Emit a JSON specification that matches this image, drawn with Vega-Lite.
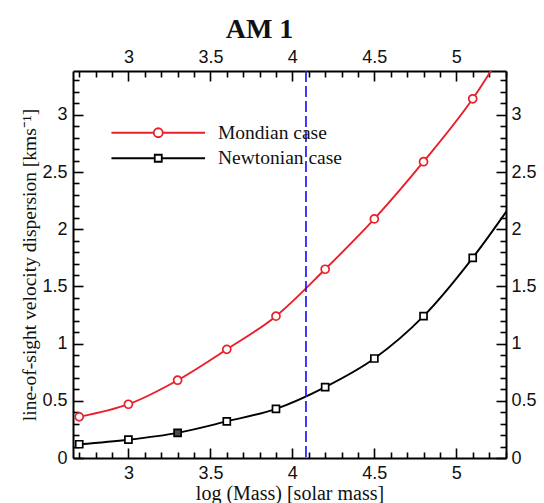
{
  "$schema": "https://vega.github.io/schema/vega-lite/v6.json",
  "width": 433,
  "height": 387,
  "autosize": {"type": "none"},
  "padding": {"left": 73, "top": 71, "right": 38, "bottom": 45},
  "background": "white",
  "title": {
    "text": "AM 1",
    "font": "Liberation Serif",
    "fontSize": 28,
    "fontWeight": "bold",
    "color": "#111111",
    "anchor": "middle",
    "dx": -30,
    "offset": 1
  },
  "datasets": {
    "curves": [
      {"logM": 2.7, "sigma": 0.36, "case": "Mondian case"},
      {"logM": 3.0, "sigma": 0.47, "case": "Mondian case"},
      {"logM": 3.3, "sigma": 0.68, "case": "Mondian case"},
      {"logM": 3.6, "sigma": 0.95, "case": "Mondian case"},
      {"logM": 3.9, "sigma": 1.24, "case": "Mondian case"},
      {"logM": 4.2, "sigma": 1.65, "case": "Mondian case"},
      {"logM": 4.5, "sigma": 2.09, "case": "Mondian case"},
      {"logM": 4.8, "sigma": 2.59, "case": "Mondian case"},
      {"logM": 5.1, "sigma": 3.14, "case": "Mondian case"},
      {"logM": 5.4, "sigma": 3.83, "case": "Mondian case"},
      {"logM": 2.7, "sigma": 0.12, "case": "Newtonian case"},
      {"logM": 3.0, "sigma": 0.16, "case": "Newtonian case"},
      {"logM": 3.3, "sigma": 0.22, "case": "Newtonian case"},
      {"logM": 3.6, "sigma": 0.32, "case": "Newtonian case"},
      {"logM": 3.9, "sigma": 0.43, "case": "Newtonian case"},
      {"logM": 4.2, "sigma": 0.62, "case": "Newtonian case"},
      {"logM": 4.5, "sigma": 0.87, "case": "Newtonian case"},
      {"logM": 4.8, "sigma": 1.24, "case": "Newtonian case"},
      {"logM": 5.1, "sigma": 1.75, "case": "Newtonian case"},
      {"logM": 5.4, "sigma": 2.35, "case": "Newtonian case"}
    ],
    "cutoff": [{"logM": 4.083}]
  },
  "config": {
    "view": {"stroke": null},
    "axis": {
      "grid": false,
      "domainColor": "black",
      "domainWidth": 2,
      "tickColor": "black",
      "tickWidth": 1.6,
      "labelFont": "Liberation Sans",
      "labelFontSize": 18,
      "labelColor": "#111111",
      "labelOverlap": false,
      "labelFlush": false,
      "titleFont": "Liberation Serif",
      "titleFontSize": 20,
      "titleFontWeight": "normal",
      "titleColor": "#111111"
    }
  },
  "layer": [
    {
      "data": {"name": "curves"},
      "mark": {"type": "line", "strokeWidth": 1.9, "clip": true, "interpolate": "monotone"},
      "encoding": {
        "x": {
          "field": "logM",
          "type": "quantitative",
          "scale": {"domain": [2.662, 5.303], "nice": false, "zero": false},
          "axis": {
            "orient": "bottom",
            "title": "log (Mass) [solar mass]",
            "values": [2.7, 2.8, 2.9, 3.0, 3.1, 3.2, 3.3, 3.4, 3.5, 3.6, 3.7, 3.8, 3.9, 4.0, 4.1, 4.2, 4.3, 4.4, 4.5, 4.6, 4.7, 4.8, 4.9, 5.0, 5.1, 5.2, 5.3],
            "format": "~g",
            "labelExpr": "abs(datum.value * 2 - round(datum.value * 2)) < 0.000001 ? datum.label : ''",
            "tickSize": {"condition": {"test": "abs(datum.value * 2 - round(datum.value * 2)) < 0.000001", "value": -10}, "value": -6},
            "labelPadding": 16,
            "titlePadding": -3
          }
        },
        "y": {
          "field": "sigma",
          "type": "quantitative",
          "scale": {"domain": [0, 3.383], "nice": false},
          "axis": {
            "orient": "left",
            "title": "line-of-sight velocity dispersion [kms⁻¹]",
            "titleFontSize": 19.5,
            "values": [0, 0.1, 0.2, 0.3, 0.4, 0.5, 0.6, 0.7, 0.8, 0.9, 1.0, 1.1, 1.2, 1.3, 1.4, 1.5, 1.6, 1.7, 1.8, 1.9, 2.0, 2.1, 2.2, 2.3, 2.4, 2.5, 2.6, 2.7, 2.8, 2.9, 3.0, 3.1, 3.2, 3.3],
            "format": "~g",
            "labelExpr": "abs(datum.value * 2 - round(datum.value * 2)) < 0.000001 ? datum.label : ''",
            "tickSize": {"condition": {"test": "abs(datum.value * 2 - round(datum.value * 2)) < 0.000001", "value": -10}, "value": -6},
            "labelPadding": 16,
            "titlePadding": 2
          }
        },
        "color": {
          "field": "case",
          "type": "nominal",
          "scale": {"domain": ["Mondian case", "Newtonian case"], "range": ["#e8202a", "#000000"]},
          "legend": {
            "orient": "none",
            "legendX": 30,
            "legendY": 52,
            "title": null,
            "symbolSize": 81,
            "symbolStrokeWidth": 1.8,
            "symbolOffset": 45.5,
            "labelOffset": 50,
            "rowPadding": 4.5,
            "labelFont": "Liberation Serif",
            "labelFontSize": 19.5,
            "labelColor": "#111111"
          }
        }
      }
    },
    {
      "data": {"name": "curves"},
      "transform": [{"filter": "datum.case === 'Mondian case'"}],
      "mark": {"type": "point", "shape": "circle", "filled": false, "fill": "white", "color": "#e8202a", "strokeWidth": 1.7, "size": 64, "opacity": 1, "clip": true},
      "encoding": {
        "x": {
          "field": "logM",
          "type": "quantitative",
          "axis": {
            "orient": "top",
            "title": null,
            "values": [2.7, 2.8, 2.9, 3.0, 3.1, 3.2, 3.3, 3.4, 3.5, 3.6, 3.7, 3.8, 3.9, 4.0, 4.1, 4.2, 4.3, 4.4, 4.5, 4.6, 4.7, 4.8, 4.9, 5.0, 5.1, 5.2, 5.3],
            "format": "~g",
            "labelExpr": "abs(datum.value * 2 - round(datum.value * 2)) < 0.000001 ? datum.label : ''",
            "tickSize": {"condition": {"test": "abs(datum.value * 2 - round(datum.value * 2)) < 0.000001", "value": -10}, "value": -6},
            "labelPadding": 14.5
          }
        },
        "y": {
          "field": "sigma",
          "type": "quantitative",
          "axis": {
            "orient": "right",
            "title": null,
            "values": [0, 0.1, 0.2, 0.3, 0.4, 0.5, 0.6, 0.7, 0.8, 0.9, 1.0, 1.1, 1.2, 1.3, 1.4, 1.5, 1.6, 1.7, 1.8, 1.9, 2.0, 2.1, 2.2, 2.3, 2.4, 2.5, 2.6, 2.7, 2.8, 2.9, 3.0, 3.1, 3.2, 3.3],
            "format": "~g",
            "labelExpr": "abs(datum.value * 2 - round(datum.value * 2)) < 0.000001 ? datum.label : ''",
            "tickSize": {"condition": {"test": "abs(datum.value * 2 - round(datum.value * 2)) < 0.000001", "value": -10}, "value": -6},
            "labelPadding": 15
          }
        }
      }
    },
    {
      "data": {"name": "curves"},
      "transform": [{"filter": "datum.case === 'Newtonian case'"}],
      "mark": {"type": "point", "shape": "square", "filled": false, "fill": "white", "color": "black", "strokeWidth": 1.7, "size": 49, "opacity": 1, "clip": true},
      "encoding": {
        "x": {"field": "logM", "type": "quantitative", "axis": null},
        "y": {"field": "sigma", "type": "quantitative", "axis": null}
      }
    },
    {
      "data": {"name": "curves"},
      "transform": [{"filter": "datum.case === 'Newtonian case' && datum.logM === 3.3"}],
      "mark": {"type": "square", "filled": true, "color": "black", "size": 49, "clip": true},
      "encoding": {
        "x": {"field": "logM", "type": "quantitative", "axis": null},
        "y": {"field": "sigma", "type": "quantitative", "axis": null}
      }
    },
    {
      "data": {"name": "cutoff"},
      "mark": {"type": "rule", "color": "#1c1cf5", "strokeWidth": 1.7, "strokeDash": [11, 4]},
      "encoding": {
        "x": {"field": "logM", "type": "quantitative", "axis": null}
      }
    },
    {
      "data": {"name": "curves"},
      "mark": {"type": "point", "filled": false, "strokeWidth": 1.8, "opacity": 0, "clip": true},
      "encoding": {
        "x": {"field": "logM", "type": "quantitative", "axis": null},
        "y": {"field": "sigma", "type": "quantitative", "axis": null},
        "color": {"field": "case", "type": "nominal", "legend": null},
        "shape": {
          "field": "case",
          "type": "nominal",
          "scale": {
            "domain": ["Mondian case", "Newtonian case"],
            "range": [
              "M-10.4,0H-1M1,0H10.4M1,0A1,1,0,1,1,-1,0A1,1,0,1,1,1,0Z",
              "M-10.4,0H-0.78M0.78,0H10.4M-0.78,-0.78H0.78V0.78H-0.78Z"
            ]
          },
          "legend": null
        }
      }
    }
  ],
  "resolve": {"axis": {"x": "independent", "y": "independent"}}
}
